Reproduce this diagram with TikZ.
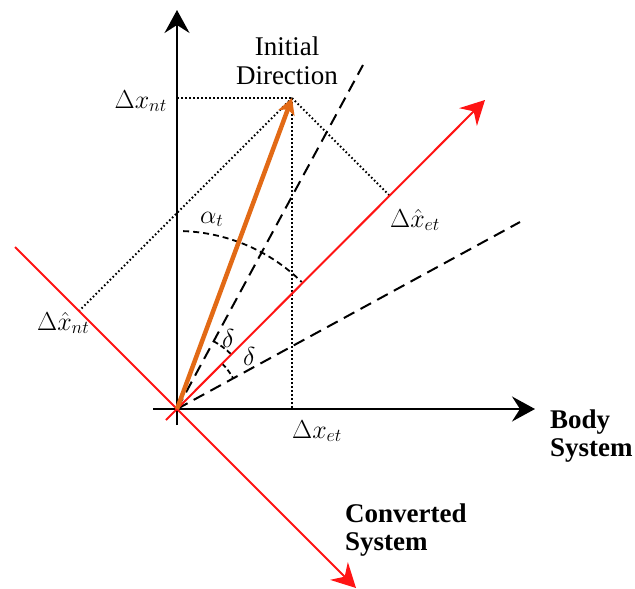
\RequirePackage{fix-cm}
\documentclass[tikz,border=0pt]{standalone}
\usepackage{fontspec}
\setmainfont{Liberation Serif}
\usetikzlibrary{arrows.meta}
\definecolor{redline}{RGB}{255,20,20}
\definecolor{orangevec}{RGB}{226,106,22}
\tikzset{
  axis/.style={line width=2.2pt,-{Stealth[length=23pt,width=25pt,inset=8pt]}},
  redaxis/.style={redline,line width=2pt,-{Stealth[length=24pt,width=25pt,inset=8pt]}},
  vec/.style={orangevec,line width=4.5pt,-{Stealth[length=16pt,width=17pt,inset=4pt]}},
  dashline/.style={line width=2pt,dash pattern=on 12pt off 7pt},
  arcline/.style={line width=1.8pt,dash pattern=on 6pt off 4pt},
  dotline/.style={line width=2pt,dash pattern=on 1.6pt off 2.4pt},
  lbl/.style={inner sep=0pt,font=\fontsize{26}{30}\selectfont},
  txt/.style={inner sep=0pt,font=\fontsize{27}{31}\selectfont,align=center},
  btxt/.style={inner sep=0pt,font=\fontsize{27}{31}\selectfont\bfseries,align=left},
}
\begin{document}
\begin{tikzpicture}[x=1pt,y=-1pt]
\useasboundingbox (0,0) rectangle (635,589);
% points
\coordinate (O) at (177,409);
\coordinate (P) at (292,98);
\coordinate (Vb) at (177,425);
\coordinate (Vt) at (177,10);
\coordinate (Hl) at (153,409);
\coordinate (Hr) at (535,409);
\coordinate (Rs) at (166,420);
\coordinate (Re) at (485,100);
\coordinate (Ss) at (15,247);
\coordinate (Se) at (356,588);
\coordinate (D1) at (363,65);
\coordinate (D2) at (520,222);
\coordinate (Py) at (177,98);
\coordinate (Px) at (292,409);
\coordinate (Fn) at (79,311);
\coordinate (Fe) at (390,196);
% dotted projections
\draw[dotline] (Py) -- (P);
\draw[dotline] (P) -- (Px);
\draw[dotline] (P) -- (Fn);
\draw[dotline] (P) -- (Fe);
% dashed lines
\draw[dashline] (O) -- (D1);
\draw[dashline] (O) -- (D2);
% arcs
\draw[arcline] (O) ++(-88:178) arc[start angle=-88,end angle=-45.5,radius=178];
\draw[arcline,dash pattern=on 5pt off 3pt] (O) ++(-61.5:77) arc[start angle=-61.5,end angle=-45,radius=77];
\draw[arcline,dash pattern=on 5pt off 3pt] (O) ++(-45:64) arc[start angle=-45,end angle=-28.5,radius=64];
% body axes
\draw[axis] (Vb) -- (Vt);
\draw[axis] (Hl) -- (Hr);
% converted axes
\draw[redaxis] (Rs) -- (Re);
\draw[redaxis] (Ss) -- (Se);
% initial direction vector
\draw[vec] (O) -- (P);
% labels
\node[txt] (init) at (287,61) {Initial\\[-2pt]Direction};
\node[lbl,anchor=base east] (xnt) at (167,108) {$\Delta x_{nt}$};
\node[lbl,anchor=base west] (xet) at (292,438) {$\Delta x_{et}$};
\node[lbl,anchor=base west] (hnt) at (37,330) {$\Delta\hat{x}_{nt}$};
\node[lbl,anchor=base west] (het) at (390,227) {$\Delta\hat{x}_{et}$};
\node[lbl,anchor=base west] (al) at (200,223) {$\alpha_t$};
\node[lbl,anchor=base west] (d1) at (222,347) {$\delta$};
\node[lbl,anchor=base west] (d2) at (243,365) {$\delta$};
\node[btxt,anchor=north west] (body) at (550,410) {Body\\[-3pt]System};
\node[btxt,anchor=north west] (conv) at (345,504) {Converted\\[-3pt]System};
\end{tikzpicture}
\end{document}
